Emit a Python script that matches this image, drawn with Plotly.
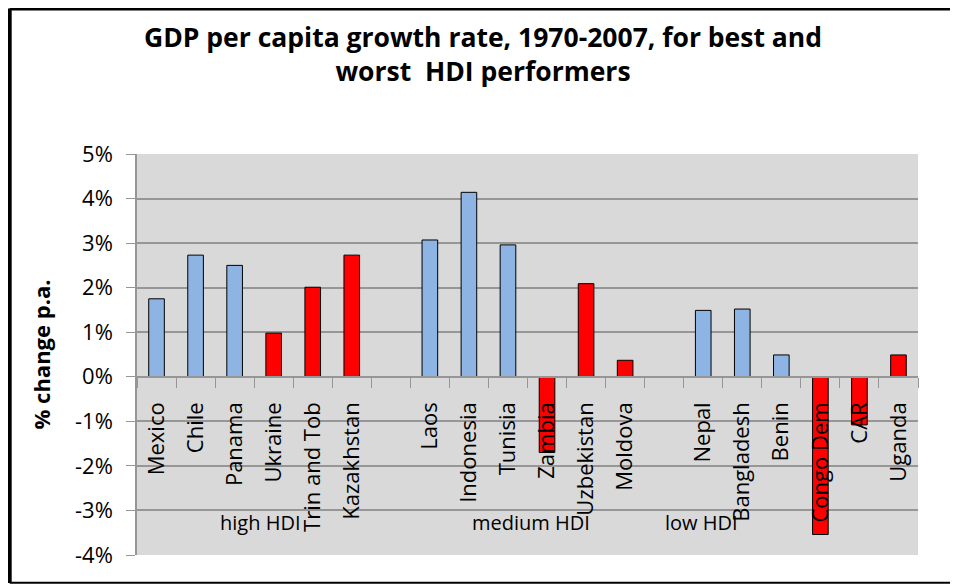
import plotly.graph_objects as go

# categories incl. two blank spacers between the HDI groups
countries = ['Mexico', 'Chile', 'Panama', 'Ukraine', 'Trin and Tob', 'Kazakhstan', ' ',
             'Laos', 'Indonesia', 'Tunisia', 'Zambia', 'Uzbekistan', 'Moldova', '  ',
             'Nepal', 'Bangladesh', 'Benin', 'Congo Dem', 'CAR', 'Uganda']
growth = [1.75, 2.73, 2.50, 0.98, 2.01, 2.73, None,
          3.07, 4.14, 2.96, -1.70, 2.09, 0.37, None,
          1.49, 1.52, 0.49, -3.54, -1.08, 0.49]
# 'best' = blue, 'worst' = red
perf = ['best', 'best', 'best', 'worst', 'worst', 'worst', '',
        'best', 'best', 'best', 'worst', 'worst', 'worst', '',
        'best', 'best', 'best', 'worst', 'worst', 'worst']
groups = ['high HDI', 'medium HDI', 'low HDI']
group_x = [2.65, 9.6, 13.95]
y_ticks = [-4, -3, -2, -1, 0, 1, 2, 3, 4, 5]
y_labels = ['-4%', '-3%', '-2%', '-1%', '0%', '1%', '2%', '3%', '4%', '5%']

colmap = {'best': '#8EB4E3', 'worst': '#FF0000', '': '#FFFFFF'}
font = 'Open Sans'
grid = '#969696'

fig = go.Figure()
fig.add_trace(go.Bar(
    x=countries, y=growth,
    marker=dict(color=[colmap[p] for p in perf], line=dict(color='black', width=1)),
    width=0.4, showlegend=False,
))

for g, gx in zip(groups, group_x):
    fig.add_annotation(x=gx, y=-3.27, text=g, showarrow=False,
                       font=dict(family=font, size=20, color='black'))

# frame on left, top and bottom (page has an 8px body margin)
fig.add_shape(type='line', xref='paper', yref='paper', x0=-0.163, x1=1.06, y0=1.363, y1=1.363,
              line=dict(color='black', width=4))
fig.add_shape(type='line', xref='paper', yref='paper', x0=-0.163, x1=-0.163, y0=1.363, y1=-0.07,
              line=dict(color='black', width=4))
fig.add_shape(type='line', xref='paper', yref='paper', x0=-0.163, x1=1.06, y0=-0.0695, y1=-0.0695,
              line=dict(color='black', width=2))

fig.update_layout(
    width=950, height=576,
    margin=dict(l=129, r=40, t=146, b=29),
    paper_bgcolor='white', plot_bgcolor='#D9D9D9',
    font=dict(family=font, color='black'),
    title=dict(text='<b>GDP per capita growth rate, 1970-2007, for best and<br>worst  HDI performers</b>',
               x=0.5, xref='container', xanchor='center', y=0.933, yanchor='middle',
               font=dict(family=font, size=26.5)),
    bargap=0.6,
)
fig.update_xaxes(
    type='category', anchor='free', position=4 / 9,
    showline=True, linecolor=grid, linewidth=1.5,
    ticks='outside', tickson='boundaries', ticklen=10, tickcolor=grid,
    tickangle=-90, tickfont=dict(family=font, size=22), ticklabelstandoff=16,
    showgrid=False,
)
fig.update_yaxes(
    range=[-4, 5], tickvals=y_ticks, ticktext=y_labels,
    showgrid=True, gridcolor=grid, gridwidth=1.5,
    zeroline=False, showline=True, linecolor=grid, linewidth=1.5,
    ticks='outside', ticklen=9, tickcolor=grid,
    tickfont=dict(family=font, size=22), ticklabelstandoff=9,
    title=dict(text='<b>% change p.a.</b>', font=dict(family=font, size=22), standoff=18),
)

fig.write_html('out.html')
